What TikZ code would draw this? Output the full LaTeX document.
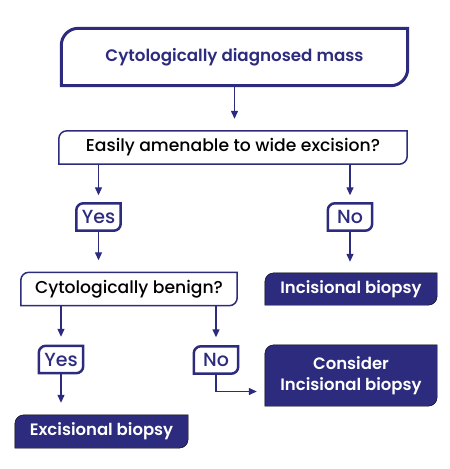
\documentclass[tikz,border=0pt]{standalone}
\usepackage{fontspec}
\setmainfont{Poppins}
\newfontfamily\midfont{Poppins Medium}
\newfontfamily\semifont{Poppins SemiBold}
\usepackage{xcolor}
\usetikzlibrary{arrows.meta,backgrounds}

\definecolor{navy}{HTML}{2C2B7E}

% box with rounded top-left and bottom-right corners
\newcommand{\notchbox}[3][]{%
  \draw[#1] (#2.south west) -- ([yshift=-#3]#2.north west)
    arc[start angle=180, end angle=90, radius=#3] -- (#2.north east)
    -- ([yshift=#3]#2.south east)
    arc[start angle=0, end angle=-90, radius=#3] -- cycle;}

\tikzset{
  startbox/.style={inner sep=0pt, minimum width=346pt, minimum height=57pt,
    text=navy, font=\fontsize{16.7}{20}\selectfont\semifont},
  askbox/.style={inner sep=0pt, minimum width=348pt, minimum height=33pt,
    font=\fontsize{17.2}{20}\selectfont\midfont},
  tagbox/.style={inner sep=0pt, minimum width=44pt, minimum height=27pt,
    text=navy, font=\fontsize{19}{20}\selectfont\midfont},
  endbox/.style={inner sep=0pt, minimum width=172pt, minimum height=32pt,
    text=white, align=center, font=\fontsize{16.5}{21}\selectfont\semifont},
  flow/.style={->, >={Stealth[length=8pt,width=7pt,inset=0pt]}, draw=navy, line width=1.3pt}
}

\begin{document}
\begin{tikzpicture}[x=1pt, y=-1pt]
 \useasboundingbox (0,0) rectangle (450,469);

 \node[startbox] (mass) at (234.5, 57) {Cytologically diagnosed mass};
 \node[askbox] (amenable) at (233, 147.5) {Easily amenable to wide excision?};
 \node[tagbox] (yes1) at (98.5, 217) {Yes};
 \node[tagbox] (no1) at (350, 217) {No};
 \node[askbox, minimum width=216pt] (benign) at (129, 289) {Cytologically benign?};
 \node[endbox] (incis) at (351, 289) {Incisional biopsy};
 \node[tagbox] (yes2) at (61, 359.5) {Yes};
 \node[tagbox] (no2) at (216, 360) {No};
 \node[endbox, minimum height=61pt] (consider) at (351, 375.5) {Consider\\Incisional biopsy};
 \node[endbox, minimum width=173pt, minimum height=33pt] (excis) at (101.5, 431.5) {Excisional biopsy};

 \begin{scope}[on background layer]
  \notchbox[draw=navy, line width=3pt]{mass}{17pt}
  \foreach \n in {amenable, benign} {\notchbox[draw=navy, line width=1.5pt]{\n}{8pt}}
  \foreach \n in {yes1, no1, yes2, no2} {\notchbox[draw=navy, line width=2.5pt]{\n}{7pt}}
  \foreach \n in {incis, consider, excis} {\notchbox[fill=navy]{\n}{9pt}}
 \end{scope}

 \draw[flow, shorten >=12pt] (mass.south) -- (mass.south |- amenable.north);
 \draw[flow, shorten >=8pt] (yes1 |- amenable.south) -- (yes1.north);
 \draw[flow, shorten >=8pt] (no1 |- amenable.south) -- (no1.north);
 \draw[flow, shorten >=12pt] (yes1.south) -- (yes1.south |- benign.north);
 \draw[flow, shorten >=11pt] (no1.south) -- (no1.south |- incis.north);
 \draw[flow, shorten >=9pt] (yes2 |- benign.south) -- (yes2.north);
 \draw[flow, shorten >=9pt] (no2 |- benign.south) -- (no2.north);
 \draw[flow, shorten >=12pt] (yes2.south) -- (yes2.south |- excis.north);
 \draw[flow, shorten >=8pt] (no2.south) |- ([yshift=-16pt]consider.west);
\end{tikzpicture}
\end{document}
